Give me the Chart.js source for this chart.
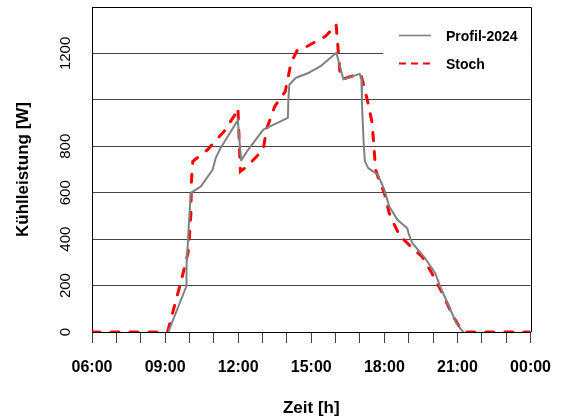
<!DOCTYPE html>
<html>
<head>
<meta charset="utf-8">
<title>Kühlleistung</title>
<script src="https://cdn.jsdelivr.net/npm/chart.js@4"></script>
<style>
  html, body { margin: 0; padding: 0; background: #fff; }
</style>
</head>
<body>
<canvas id="kuehlChart" width="566" height="418"></canvas>
<script>
// Stunden (x) und Kühlleistung in W (y) für Profil-2024
const profilStunden = [9.13, 9.87, 9.88, 9.97, 10.05, 10.07, 10.47, 10.95, 11.08, 11.28, 11.96, 11.98,
  12.12, 12.36, 13.03, 14.04, 14.06, 14.1, 14.37, 14.91, 15.38, 16.03, 16.32, 16.99, 17.06, 17.08,
  17.15, 17.2, 17.34, 17.73, 18.0, 18.2, 18.54, 18.94, 19.01, 19.15, 19.62, 20.09, 20.29, 20.96,
  21.16, 21.25];
const profilWerte = [0, 196, 282, 454, 591, 600, 627, 699, 750, 793, 908, 918,
  739, 778, 872, 922, 1001, 1066, 1095, 1117, 1145, 1203, 1088, 1112, 1088, 987,
  814, 735, 706, 678, 613, 541, 483, 447, 419, 383, 325, 253, 196, 37,
  9, 0];

// Stochastisches Profil
const stochStunden = [6, 9.1, 9.67, 9.94, 10.0, 10.06, 10.08, 10.14, 10.75, 11.42, 11.96, 11.99,
  12.09, 12.36, 13.03, 13.16, 13.5, 13.93, 14.17, 14.44, 14.84, 15.58, 15.99, 16.02, 16.12, 16.19,
  16.3, 17.0, 17.06, 17.3, 17.5, 17.64, 17.8, 18.0, 18.2, 18.41, 18.68, 18.81, 19.15, 19.55,
  19.95, 20.35, 20.83, 21.16, 21.3, 24];
const stochWerte = [0, 0, 224, 340, 411, 512, 650, 735, 786, 864, 951, 965,
  692, 713, 786, 872, 972, 1035, 1160, 1217, 1231, 1274, 1318, 1325, 1195, 1102,
  1090, 1112, 1100, 1000, 900, 700, 649, 599, 512, 462, 404, 397, 361, 325,
  253, 174, 66, 9, 0, 0];

// Achsenbeschriftungen (1000 ist im Original nicht beschriftet)
const xTickStunden = [6, 9, 12, 15, 18, 21, 24];
const xTickLabels = ['06:00', '09:00', '12:00', '15:00', '18:00', '21:00', '00:00'];
const yTickWerte = [0, 200, 400, 600, 800, 1200];
const yTickLabels = ['0', '200', '400', '600', '800', '1200'];
const serienNamen = ['Profil-2024', 'Stoch'];

const schrift = '"Liberation Sans", Arial, sans-serif';
Chart.defaults.font.family = schrift;
Chart.defaults.color = '#000';

const zuPunkten = (stunden, werte) => stunden.map((h, i) => ({ x: h, y: werte[i] }));

// Rahmen, Legende und gedrehte Texte selber zeichnen
const zeichenPlugin = {
  id: 'zeichenPlugin',
  beforeDatasetsDraw: (chart) => {
    const { ctx, chartArea } = chart;
    ctx.save();
    // weisser Legendenhintergrund (verdeckt die 1200-Linie)
    ctx.fillStyle = '#fff';
    ctx.fillRect(383, 15, chartArea.right - 383, 70);
    // Rahmen oben und rechts
    ctx.strokeStyle = '#000';
    ctx.lineWidth = 1;
    ctx.beginPath();
    ctx.moveTo(chartArea.left, Math.round(chartArea.top) + 0.5);
    ctx.lineTo(Math.round(chartArea.right) + 0.5, Math.round(chartArea.top) + 0.5);
    ctx.lineTo(Math.round(chartArea.right) + 0.5, chartArea.bottom);
    ctx.stroke();
    ctx.restore();
  },
  afterDraw: (chart) => {
    const { ctx, chartArea } = chart;
    const yScale = chart.scales.y;
    ctx.save();
    ctx.fillStyle = '#000';

    // y-Tickbeschriftungen, gedreht
    ctx.font = '15px ' + schrift;
    ctx.textAlign = 'center';
    ctx.textBaseline = 'middle';
    yTickWerte.forEach((v, i) => {
      ctx.save();
      ctx.translate(66, yScale.getPixelForValue(v));
      ctx.rotate(-Math.PI / 2);
      ctx.fillText(yTickLabels[i], 0, 0);
      ctx.restore();
    });

    // Achsentitel
    ctx.font = 'bold 17px ' + schrift;
    ctx.save();
    ctx.translate(23, (chartArea.top + chartArea.bottom) / 2);
    ctx.rotate(-Math.PI / 2);
    ctx.fillText('Kühlleistung [W]', 0, 0);
    ctx.restore();
    ctx.fillText('Zeit [h]', (chartArea.left + chartArea.right) / 2, 408);

    // Legende
    const zeilen = [35.5, 63.5];
    chart.data.datasets.forEach((ds, i) => {
      ctx.save();
      ctx.strokeStyle = ds.borderColor;
      ctx.lineWidth = i === 0 ? 1.6 : 2;
      ctx.setLineDash(i === 0 ? [] : [7, 5]);
      ctx.beginPath();
      ctx.moveTo(399, zeilen[i]);
      ctx.lineTo(431, zeilen[i]);
      ctx.stroke();
      ctx.restore();
      ctx.font = 'bold 14px ' + schrift;
      ctx.textAlign = 'left';
      ctx.fillText(ds.label, 446, zeilen[i] + 1.5);
    });
    ctx.restore();
  },
};

const ctx = document.getElementById('kuehlChart');

new Chart(ctx, {
  type: 'line',
  data: {
    datasets: [
      {
        label: serienNamen[0],
        data: zuPunkten(profilStunden, profilWerte),
        borderColor: '#808080',
        borderWidth: 2,
        pointRadius: 0,
        tension: 0,
        borderJoinStyle: 'round',
      },
      {
        label: serienNamen[1],
        data: zuPunkten(stochStunden, stochWerte),
        borderColor: '#ff0000',
        borderWidth: 3,
        borderDash: [8, 11],
        borderCapStyle: 'round',
        pointRadius: 0,
        tension: 0,
      },
    ],
  },
  options: {
    responsive: false,
    animation: false,
    devicePixelRatio: 1,
    layout: { padding: { top: 7, right: 27, left: 0, bottom: 0 } },
    plugins: {
      legend: { display: false },
      tooltip: { enabled: false },
    },
    scales: {
      x: {
        type: 'linear',
        min: 6,
        max: 24,
        afterFit: (scale) => { scale.height = 86; },
        ticks: {
          stepSize: 1,
          autoSkip: false,
          maxRotation: 0,
          padding: 15,
          color: '#000',
          font: { size: 16, weight: 'bold' },
          callback: (value) => {
            const idx = xTickStunden.indexOf(value);
            return idx >= 0 ? xTickLabels[idx] : '';
          },
        },
        grid: {
          drawOnChartArea: false,
          drawTicks: true,
          tickLength: 11,
          color: '#444',
        },
        border: { display: true, color: '#000', width: 1 },
      },
      y: {
        min: 0,
        max: 1400,
        afterFit: (scale) => { scale.width = 92; },
        ticks: { stepSize: 200, display: false },
        grid: { drawTicks: false, color: '#444', lineWidth: 1 },
        border: { display: true, color: '#000', width: 1 },
      },
    },
  },
  plugins: [zeichenPlugin],
});
</script>
</body>
</html>
